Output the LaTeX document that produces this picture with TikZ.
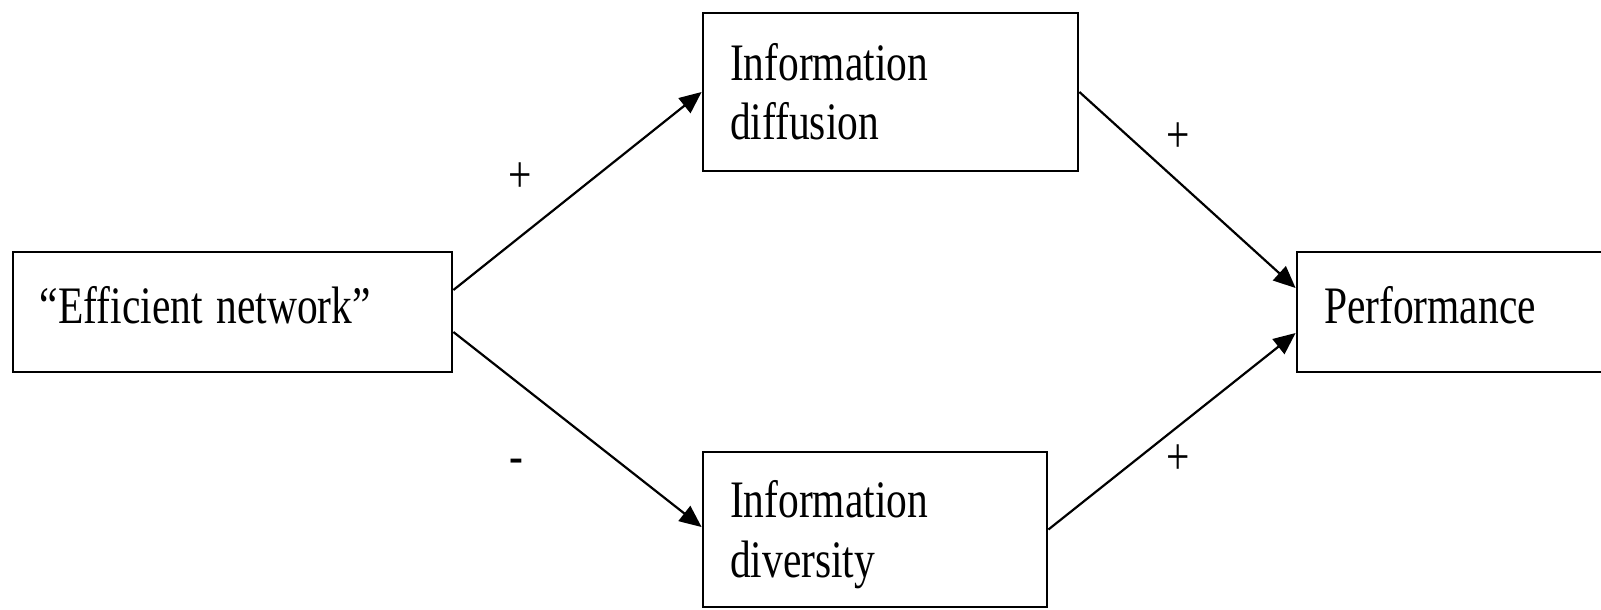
\documentclass[tikz,border=0pt]{standalone}
\usepackage{fontspec}
\setmainfont{Liberation Serif}
\usepackage{graphicx}
\usetikzlibrary{arrows.meta}
\tikzstyle{block}=[draw,line width=1.6pt,inner xsep=0.54cm,inner ysep=0pt,align=left,font=\fontsize{23.6}{26.8}\selectfont]
\tikzstyle{sign}=[inner sep=0pt,font=\fontsize{23.6}{26.8}\selectfont]
\tikzstyle{link}=[line width=1.25pt,-{Triangle[length=0.44cm,width=0.38cm]}]
\newcommand{\tallbox}[2][0cm]{\raisebox{#1}[\height][\depth]{\scalebox{1}[1.27]{\begin{tabular}{@{}l@{}}#2\end{tabular}}}}

\begin{document}
\begin{tikzpicture}
\useasboundingbox (0, 0) rectangle (32.02, -12.18);

\node[block, minimum width=8.78cm, minimum height=2.4cm,  text width=7.70cm] (eff)  at (4.65, -6.24)   {\tallbox{``Efficient network''}};
\node[block, minimum width=7.5cm,  minimum height=3.16cm, text width=6.42cm] (diff) at (17.81, -1.84)  {\tallbox[-0.12cm]{Information\\diffusion}};
\node[block, minimum width=6.88cm, minimum height=3.1cm,  text width=5.80cm] (div)  at (17.50, -10.59) {\tallbox[-0.12cm]{Information\\diversity}};
\node[block, minimum width=6.4cm,  minimum height=2.4cm,  text width=5.32cm] (perf) at (29.14, -6.24)  {\tallbox{Performance}};

\draw[link] ([yshift=0.44cm]eff.east) -- (diff.west);
\draw[link] ([yshift=-0.4cm]eff.east) -- ([yshift=0.05cm]div.west);
\draw[link] (diff.east) -- ([yshift=0.48cm]perf.west);
\draw[link] (div.east) -- ([yshift=-0.42cm]perf.west);

\node[sign] (p1) at (10.4, -3.56)  {\scalebox{1}[1.27]{+}};
\node[sign] (m1) at (10.32, -9.32) {\scalebox{1}[1.27]{-}};
\node[sign] (p2) at (23.56, -2.76) {\scalebox{1}[1.27]{+}};
\node[sign] (p3) at (23.56, -9.2)  {\scalebox{1}[1.27]{+}};

\end{tikzpicture}
\end{document}
